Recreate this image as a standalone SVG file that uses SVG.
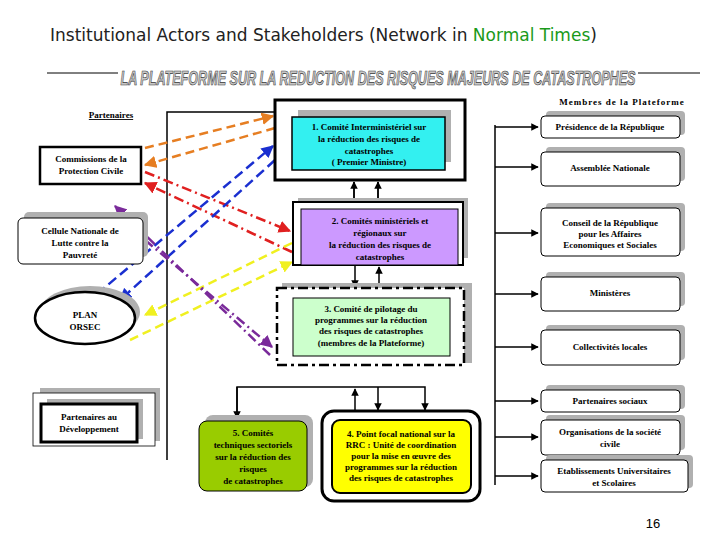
<svg xmlns="http://www.w3.org/2000/svg" width="720" height="540" viewBox="0 0 720 540">
<style>
.t{font-family:'Liberation Serif','Times New Roman',serif;font-weight:bold;font-size:9px;text-anchor:middle;fill:#000}
.sh{fill:#b0b0b0}
.c{fill:none;stroke:#000;stroke-width:1.5}
.rb{fill:#fff;stroke:#000;stroke-width:1}
</style>
<defs>
<marker id="a" viewBox="0 0 10 10" refX="9" refY="5" markerWidth="5" markerHeight="5" orient="auto"><path d="M0,0L10,5L0,10z" fill="#000"/></marker>
<marker id="ao" viewBox="0 0 10 10" refX="9" refY="5" markerWidth="5" markerHeight="5" orient="auto"><path d="M0,0L10,5L0,10z" fill="#e67e22"/></marker>
<marker id="ar" viewBox="0 0 10 10" refX="9" refY="5" markerWidth="5" markerHeight="5" orient="auto"><path d="M0,0L10,5L0,10z" fill="#e02020"/></marker>
<marker id="ab" viewBox="0 0 10 10" refX="9" refY="5" markerWidth="5" markerHeight="5" orient="auto"><path d="M0,0L10,5L0,10z" fill="#1a2fd0"/></marker>
<marker id="ay" viewBox="0 0 10 10" refX="9" refY="5" markerWidth="5" markerHeight="5" orient="auto"><path d="M0,0L10,5L0,10z" fill="#f0f020"/></marker>
<marker id="ap" viewBox="0 0 10 10" refX="9" refY="5" markerWidth="5" markerHeight="5" orient="auto"><path d="M0,0L10,5L0,10z" fill="#7a2a9a"/></marker>
</defs>
<text x="50" y="41" font-family="DejaVu Sans,sans-serif" font-size="17" fill="#222">Institutional Actors and Stakeholders (Network in <tspan fill="#1a9a1a">Normal Times</tspan>)</text>
<line x1="47" y1="73" x2="700" y2="73" stroke="#000" stroke-width="1"/>
<rect x="118" y="64" width="520" height="24" fill="#fff"/>
<text x="378" y="85" font-family="Liberation Sans,sans-serif" font-weight="bold" font-style="italic" font-size="20" text-anchor="middle" fill="#c8c8c8" stroke="#333" stroke-width="0.7" textLength="515" lengthAdjust="spacingAndGlyphs">LA PLATEFORME SUR LA REDUCTION DES RISQUES MAJEURS DE CATASTROPHES</text>
<text x="111" y="118" class="t" text-decoration="underline">Partenaires</text>
<text x="622" y="105" class="t" letter-spacing="1">Membres de la Plateforme</text>

<g id="connectors">
<polyline class="c" points="167,460 167,112 275,112"/>
<line class="c" x1="495" y1="125" x2="495" y2="485" stroke-width="2"/>
<line class="c" x1="495" y1="127" x2="538" y2="127" marker-end="url(#a)"/>
<line class="c" x1="495" y1="167" x2="538" y2="167" marker-end="url(#a)"/>
<line class="c" x1="495" y1="233" x2="538" y2="233" marker-end="url(#a)"/>
<line class="c" x1="495" y1="294" x2="538" y2="294" marker-end="url(#a)"/>
<line class="c" x1="495" y1="347" x2="538" y2="347" marker-end="url(#a)"/>
<line class="c" x1="495" y1="401" x2="538" y2="401" marker-end="url(#a)"/>
<line class="c" x1="495" y1="437" x2="538" y2="437" marker-end="url(#a)"/>
<line class="c" x1="495" y1="476" x2="538" y2="476" marker-end="url(#a)"/>
<line class="c" x1="354" y1="202" x2="354" y2="182" marker-end="url(#a)" stroke-width="2"/>
<line class="c" x1="378" y1="202" x2="378" y2="182" marker-end="url(#a)" stroke-width="2"/>
<line class="c" x1="354" y1="182" x2="354" y2="208" marker-end="url(#a)" stroke-width="2"/>
<line class="c" x1="378" y1="182" x2="378" y2="208" marker-end="url(#a)" stroke-width="2"/>
<line class="c" x1="355" y1="265" x2="355" y2="287" marker-end="url(#a)"/>
<line class="c" x1="379" y1="287" x2="379" y2="267" marker-end="url(#a)"/>
<polyline class="c" points="237,418 237,387 425,387 425,410" marker-end="url(#a)"/>
<line class="c" x1="355" y1="410" x2="355" y2="389" marker-end="url(#a)"/>
<line class="c" x1="378" y1="387" x2="378" y2="410" marker-end="url(#a)"/>
<line class="c" x1="237" y1="387" x2="237" y2="418" marker-end="url(#a)"/>
<g fill="none" stroke-width="2.5">
<line x1="145" y1="148" x2="273" y2="116" stroke="#e67e22" stroke-dasharray="9,5" marker-end="url(#ao)"/>
<line x1="275" y1="128" x2="145" y2="165" stroke="#e67e22" stroke-dasharray="9,5" marker-end="url(#ao)"/>
<line x1="145" y1="172" x2="290" y2="231" stroke="#e02020" stroke-dasharray="10,4,2,4" marker-end="url(#ar)"/>
<line x1="292" y1="252" x2="145" y2="183" stroke="#e02020" stroke-dasharray="10,4,2,4" marker-end="url(#ar)"/>
<line x1="97" y1="294" x2="273" y2="146" stroke="#1a2fd0" stroke-dasharray="10,5" marker-end="url(#ab)"/>
<line x1="275" y1="160" x2="120" y2="300" stroke="#1a2fd0" stroke-dasharray="10,5" marker-end="url(#ab)"/>
<line x1="292" y1="243" x2="145" y2="315" stroke="#f0f020" stroke-dasharray="9,5" marker-end="url(#ay)"/>
<line x1="130" y1="340" x2="292" y2="262" stroke="#f0f020" stroke-dasharray="9,5" marker-end="url(#ay)"/>
<line x1="270" y1="355" x2="115" y2="206" stroke="#7a2a9a" stroke-dasharray="10,4,2,4" marker-end="url(#ap)"/>
<line x1="145" y1="240" x2="272" y2="347" stroke="#7a2a9a" stroke-dasharray="10,4,2,4" marker-end="url(#ap)"/>
</g>
</g>

<g id="n1"><rect x="275" y="100" width="190" height="80" fill="#fff" stroke="#000" stroke-width="3"/><rect x="298" y="110" width="153" height="52" class="sh"/><rect x="292" y="117" width="153" height="53" fill="#33f0f0" stroke="#000" stroke-width="1.5"/>
<text class="t"><tspan x="369" y="130">1. Comité Interministériel sur</tspan><tspan x="369" y="142">la réduction des risques de</tspan><tspan x="369" y="154">catastrophes</tspan><tspan x="369" y="165">( Premier Ministre)</tspan></text></g>
<g id="n2"><rect x="298" y="198" width="170" height="60" class="sh"/><rect x="293" y="202" width="170" height="63" fill="#fff" stroke="#000" stroke-width="2"/><rect x="301" y="209" width="157" height="56" fill="#cc99ff" stroke="#000"/>
<text class="t"><tspan x="380" y="224">2. Comités ministériels  et</tspan><tspan x="380" y="236">régionaux  sur</tspan><tspan x="380" y="248">la réduction des risques de</tspan><tspan x="380" y="260">catastrophes</tspan></text></g>
<g id="n3"><rect x="282" y="283" width="190" height="80" class="sh"/><rect x="277" y="288" width="187" height="77" fill="#fff" stroke="#000" stroke-width="2.5" stroke-dasharray="10,4,3,4"/><rect x="293" y="298" width="157" height="58" fill="#ccffcc" stroke="#000"/>
<text class="t"><tspan x="371" y="312">3. Comité de pilotage du</tspan><tspan x="371" y="323">programmes sur la réduction</tspan><tspan x="371" y="334">des risques de catastrophes</tspan><tspan x="371" y="346">(membres de la Plateforme)</tspan></text></g>
<g id="n5"><rect x="205" y="415" width="108" height="72" rx="8" class="sh"/><rect x="199" y="421" width="108" height="70" rx="8" fill="#99cc00" stroke="#000"/>
<text class="t"><tspan x="253" y="436">5. Comités</tspan><tspan x="253" y="448">techniques sectoriels</tspan><tspan x="253" y="460">sur la réduction des</tspan><tspan x="253" y="472">risques</tspan><tspan x="253" y="484">de catastrophes</tspan></text></g>
<g id="n4"><rect x="322" y="411" width="158" height="90" rx="12" fill="#fff" stroke="#000" stroke-width="3"/><rect x="332" y="420" width="139" height="73" rx="8" fill="#ffff00" stroke="#000" stroke-width="2"/>
<text class="t" font-size="8.5"><tspan x="401" y="437">4. Point focal national sur la</tspan><tspan x="401" y="448">RRC :  Unité de coordination</tspan><tspan x="401" y="459">pour la mise en œuvre des</tspan><tspan x="401" y="470">programmes sur la réduction</tspan><tspan x="401" y="481">des risques de catastrophes</tspan></text></g>

<g id="l1"><rect x="40" y="147" width="101" height="37" fill="#fff" stroke="#000" stroke-width="2.5"/><text class="t"><tspan x="91" y="162">Commissions  de la</tspan><tspan x="91" y="174">Protection Civile</tspan></text></g>
<g id="l2"><rect x="24" y="212" width="124" height="45" rx="5" class="sh"/><rect x="18" y="218" width="125" height="46" rx="5" class="rb"/><text class="t"><tspan x="80" y="234">Cellule Nationale de</tspan><tspan x="80" y="246">Lutte contre la</tspan><tspan x="80" y="258">Pauvreté</tspan></text></g>
<g id="l3"><ellipse cx="90" cy="312" rx="50" ry="26" class="sh"/><ellipse cx="85" cy="318" rx="50" ry="26" fill="#fff" stroke="#000" stroke-width="2.5"/><text class="t"><tspan x="85" y="318">PLAN</tspan><tspan x="85" y="330">ORSEC</tspan></text></g>
<g id="l4"><rect x="40" y="388" width="120" height="53" class="sh"/><rect x="33" y="393" width="122" height="53" fill="#fff" stroke="#000" stroke-width="0.8"/><rect x="47" y="399" width="96" height="40" class="sh"/><rect x="41" y="404" width="96" height="38" fill="#fff" stroke="#000" stroke-width="3"/><text class="t"><tspan x="89" y="420">Partenaires au</tspan><tspan x="89" y="432">Développement</tspan></text></g>

<g id="r1"><rect x="546" y="111" width="139" height="24" rx="4" class="sh"/><rect x="541" y="116" width="139" height="22" rx="4" class="rb"/><text class="t" x="610" y="130">Présidence de la République</text></g>
<g id="r2"><rect x="546" y="147" width="139" height="34" rx="4" class="sh"/><rect x="541" y="152" width="139" height="34" rx="4" class="rb"/><text class="t" x="610" y="171">Assemblée Nationale</text></g>
<g id="r3"><rect x="546" y="203" width="139" height="48" rx="4" class="sh"/><rect x="541" y="208" width="139" height="48" rx="4" class="rb"/><text class="t"><tspan x="610" y="226">Conseil de la République</tspan><tspan x="610" y="237">pour les Affaires</tspan><tspan x="610" y="248">Economiques et Sociales</tspan></text></g>
<g id="r4"><rect x="546" y="272" width="139" height="34" rx="4" class="sh"/><rect x="541" y="277" width="139" height="34" rx="4" class="rb"/><text class="t" x="610" y="296">Ministères</text></g>
<g id="r5"><rect x="546" y="325" width="139" height="35" rx="4" class="sh"/><rect x="541" y="330" width="139" height="35" rx="4" class="rb"/><text class="t" x="610" y="350">Collectivités  locales</text></g>
<g id="r6"><rect x="546" y="385" width="139" height="24" rx="4" class="sh"/><rect x="541" y="390" width="139" height="22" rx="4" class="rb"/><text class="t" x="610" y="404">Partenaires sociaux</text></g>
<g id="r7"><rect x="546" y="415" width="139" height="35" rx="4" class="sh"/><rect x="541" y="420" width="139" height="35" rx="4" class="rb"/><text class="t"><tspan x="610" y="435">Organisations de la société</tspan><tspan x="610" y="447">civile</tspan></text></g>
<g id="r8"><rect x="546" y="455" width="147" height="33" rx="4" class="sh"/><rect x="541" y="460" width="147" height="32" rx="4" class="rb"/><text class="t"><tspan x="614" y="474">Etablissements Universitaires</tspan><tspan x="614" y="486">et  Scolaires</tspan></text></g>
<text x="653" y="528" font-family="Liberation Sans,sans-serif" font-size="13" text-anchor="middle">16</text>
</svg>
